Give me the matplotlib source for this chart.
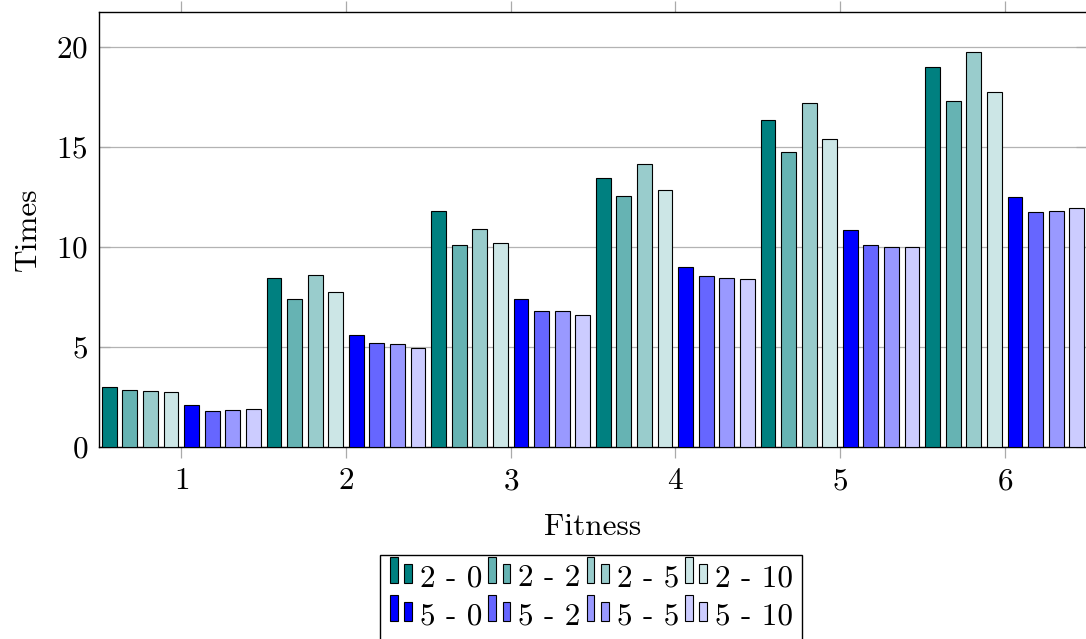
import matplotlib.pyplot as plt
import numpy as np
from matplotlib.patches import Rectangle
from matplotlib.legend_handler import HandlerBase

plt.rcParams['font.family'] = 'serif'
plt.rcParams['font.serif'] = ['cmr10']
plt.rcParams['mathtext.fontset'] = 'cm'
plt.rcParams['axes.formatter.use_mathtext'] = True

fitness = [1, 2, 3, 4, 5, 6]
labels = ['2 - 0', '2 - 2', '2 - 5', '2 - 10', '5 - 0', '5 - 2', '5 - 5', '5 - 10']
values = [
    [3.0, 8.45, 11.8, 13.45, 16.35, 19.0],     # 2 - 0
    [2.85, 7.4, 10.1, 12.55, 14.75, 17.3],     # 2 - 2
    [2.8, 8.6, 10.9, 14.15, 17.2, 19.75],      # 2 - 5
    [2.75, 7.75, 10.2, 12.85, 15.4, 17.75],    # 2 - 10
    [2.1, 5.6, 7.4, 9.0, 10.85, 12.5],         # 5 - 0
    [1.8, 5.22, 6.8, 8.55, 10.1, 11.75],       # 5 - 2
    [1.85, 5.17, 6.82, 8.47, 10.0, 11.78],     # 5 - 5
    [1.9, 4.97, 6.62, 8.4, 10.0, 11.97],       # 5 - 10
]
colors = ['#008080', '#66b3b3', '#99cccc', '#cce6e6',
          '#0000ff', '#6666ff', '#9999ff', '#ccccff']


class TwoBarHandler(HandlerBase):
    # pgfplots style ybar legend image: a tall and a short bar
    def create_artists(self, legend, orig_handle, xdescent, ydescent,
                       width, height, fontsize, trans):
        fc = orig_handle.get_facecolor()
        bw = 0.3 * width
        r1 = Rectangle((-xdescent + 0.05 * width, -ydescent + 0.1 * height), bw, height * 1.3,
                       facecolor=fc, edgecolor='black', lw=0.8, transform=trans)
        r2 = Rectangle((-xdescent + 0.62 * width, -ydescent + 0.1 * height), bw, height * 0.95,
                       facecolor=fc, edgecolor='black', lw=0.8, transform=trans)
        return [r1, r2]


fig = plt.figure(figsize=(10.86, 6.39), dpi=100)
ax = fig.add_axes([99 / 1086, 1 - 447 / 639, 988 / 1086, 435 / 639])

x = np.array(fitness)
handles = []
for i, (vals, c) in enumerate(zip(values, colors)):
    ax.bar(x + (i - 3.5) * 0.125, vals, width=0.09, color=c,
           edgecolor='black', linewidth=0.8, zorder=3)
    handles.append(Rectangle((0, 0), 1, 1, facecolor=c))

ax.set_xlim(0.5, 6.5)
ax.set_ylim(0, 21.75)
ax.set_xticks(fitness)
ax.set_yticks([0, 5, 10, 15, 20])
ax.yaxis.grid(True, color='#b3b3b3', linewidth=0.9, zorder=0)
ax.set_axisbelow(True)

ax.tick_params(axis='x', direction='out', length=8, width=0.9, color='#aaaaaa',
               top=True, bottom=True, labelsize=22.5, pad=6.5)
ax.tick_params(axis='y', direction='in', length=8, width=0.9, color='#aaaaaa',
               left=True, right=True, labelsize=22.5, pad=8)
for s in ax.spines.values():
    s.set_linewidth(1.0)

ax.set_xlabel('Fitness', fontsize=22.5)
ax.set_ylabel('Times', fontsize=22.5)
ax.xaxis.set_label_coords(0.5, -0.152)
ax.yaxis.set_label_coords(-0.058, 0.5)

# legend fills column by column, so reorder to get two rows of four
order = [0, 4, 1, 5, 2, 6, 3, 7]
leg = fig.legend([handles[k] for k in order], [labels[k] for k in order],
                 ncol=4, loc='upper center',
                 bbox_to_anchor=(591 / 1086, 1 - 555 / 639), borderaxespad=0,
                 fontsize=22.5, handler_map={Rectangle: TwoBarHandler()},
                 handlelength=0.8, handleheight=0.6, handletextpad=0.2,
                 columnspacing=0.15, labelspacing=0.32, borderpad=0.3,
                 fancybox=False, framealpha=1, edgecolor='black')
leg.get_frame().set_linewidth(1.0)

plt.savefig('out.png', dpi=100)
